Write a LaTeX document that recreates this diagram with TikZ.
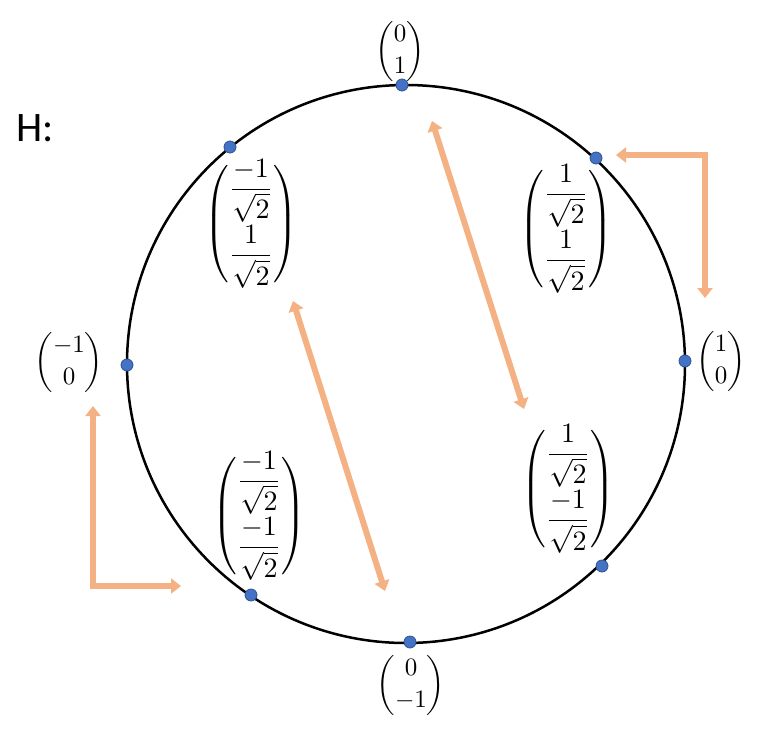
\documentclass[tikz,border=0pt]{standalone}
\usepackage{amsmath}
\usepackage{fontspec}
\newfontfamily\labelfont{Carlito}
\usetikzlibrary{arrows.meta}
\definecolor{dotblue}{HTML}{4472C4}
\definecolor{dotedge}{HTML}{2F528F}
\definecolor{arrorange}{HTML}{F4B183}
\tikzset{
  ptdot/.style={circle,fill=dotblue,draw=dotedge,line width=0.8pt,minimum size=12pt,inner sep=0pt},
  harrow/.style={draw=arrorange,line width=6pt,{Triangle[width=15pt,length=10pt]}-{Triangle[width=15pt,length=10pt]}},
  vecsmall/.style={inner sep=0pt,scale=2.5,execute at begin node={\renewcommand{\arraystretch}{1.08}}},
  vecfrac/.style={inner sep=0pt,scale=2.8},
}
\begin{document}
\begin{tikzpicture}[x=1pt,y=-1pt]
\useasboundingbox (0,0) rectangle (778,742);
% circle
\node[circle,draw,line width=2.5pt,minimum size=558pt,inner sep=0pt] (circ) at (406,364) {};
% points on the circle
\node[ptdot] (ptop) at (402,85) {};
\node[ptdot] (pright) at (685,361) {};
\node[ptdot] (pbottom) at (410,642) {};
\node[ptdot] (pleft) at (127,365) {};
\node[ptdot] (pul) at (230,147) {};
\node[ptdot] (pur) at (596,158) {};
\node[ptdot] (plr) at (602,566) {};
\node[ptdot] (pll) at (251,595) {};
% labels
\node[font=\fontsize{42}{48}\selectfont\labelfont,anchor=west,inner sep=0pt] (hlabel) at (16,128) {H:};
\node[vecsmall] (ltop) at (400,51) {$\begin{pmatrix}0\\1\end{pmatrix}$};
\node[vecsmall] (lright) at (721,361) {$\begin{pmatrix}1\\0\end{pmatrix}$};
\node[vecsmall] (lleft) at (69,362) {$\begin{pmatrix}-1\\0\end{pmatrix}$};
\node[vecsmall] (lbottom) at (411,685) {$\begin{pmatrix}0\\-1\end{pmatrix}$};
\node[vecfrac] (lul) at (251,224) {$\begin{pmatrix}\dfrac{-1}{\sqrt{2}}\\[7pt]\dfrac{1}{\sqrt{2}}\end{pmatrix}$};
\node[vecfrac] (lur) at (566,229) {$\begin{pmatrix}\dfrac{1}{\sqrt{2}}\\[7pt]\dfrac{1}{\sqrt{2}}\end{pmatrix}$};
\node[vecfrac] (lll) at (259,516) {$\begin{pmatrix}\dfrac{-1}{\sqrt{2}}\\[7pt]\dfrac{-1}{\sqrt{2}}\end{pmatrix}$};
\node[vecfrac] (llr) at (568,489) {$\begin{pmatrix}\dfrac{1}{\sqrt{2}}\\[7pt]\dfrac{-1}{\sqrt{2}}\end{pmatrix}$};
% arrow end points
\coordinate (a1s) at (432,121);
\coordinate (a1e) at (524,409);
\coordinate (a2s) at (293,301);
\coordinate (a2e) at (385,591);
\coordinate (r1) at (616,155);
\coordinate (rc) at (705,155);
\coordinate (r2) at (705,298);
\coordinate (l1) at (93,406);
\coordinate (lc) at (93,586);
\coordinate (l2) at (181,586);
\draw[harrow] (a1s) -- (a1e);
\draw[harrow] (a2s) -- (a2e);
\draw[harrow,line join=miter] (r1) -- (rc) -- (r2);
\draw[harrow,line join=miter] (l1) -- (lc) -- (l2);
\end{tikzpicture}
\end{document}
